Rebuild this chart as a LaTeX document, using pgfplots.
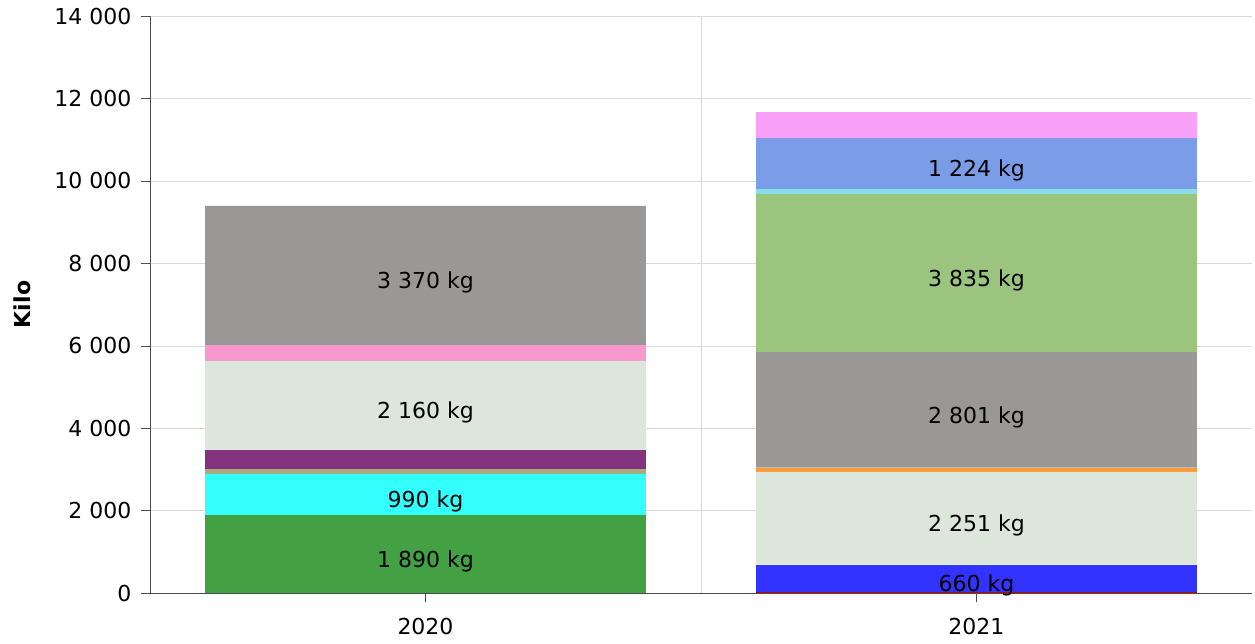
\documentclass[border=0pt]{standalone}
\usepackage{fontspec}
\setmainfont{DejaVu Sans}
\usepackage{pgfplots}
\pgfplotsset{compat=1.18}

\definecolor{cRed}{HTML}{C00000}
\definecolor{cBlue}{HTML}{3333FF}
\definecolor{cGreen}{HTML}{43A143}
\definecolor{cCyan}{HTML}{33FFFF}
\definecolor{cTan}{HTML}{A8AA80}
\definecolor{cPurple}{HTML}{833380}
\definecolor{cLight}{HTML}{DCE6DA}
\definecolor{cOrange}{HTML}{FF9933}
\definecolor{cPink}{HTML}{F799CC}
\definecolor{cGray}{HTML}{999897}
\definecolor{cGreenB}{HTML}{9BC47F}
\definecolor{cLCyan}{HTML}{88DDE6}
\definecolor{cBlueB}{HTML}{7B9DE8}
\definecolor{cPinkB}{HTML}{F9A0F9}

\pgfplotsset{
  % value label in the middle of its own segment, empty for zero entries
  lbl/.style={
    point meta=rawy,
    nodes near coords={\pgfmathfloatifflags{\pgfplotspointmeta}{0}{}{\pgfmathprintnumber{\pgfplotspointmeta}\ kg}},
    every node near coord/.append style={anchor=center, text=black, yshift=-7bp},
  },
}

\begin{document}
\fontsize{22bp}{26bp}\selectfont
\begin{tikzpicture}
  \begin{axis}[
    at={(0,0)}, anchor=south west,
    scale only axis,
    width=1102bp, height=577bp,
    ybar stacked,
    bar width=0.8,
    xmin=-0.5, xmax=1.5,
    ymin=0, ymax=14000,
    xtick={0,1},
    xticklabels={2020,2021},
    minor xtick={0.5},
    ytick={0,2000,...,14000},
    scaled y ticks=false,
    axis x line*=bottom,
    axis y line*=left,
    axis line style={black!70},
    tick align=outside,
    major tick length=9bp,
    minor tick length=0pt,
    tick style={black!70},
    ymajorgrids, xminorgrids,
    major grid style={black!15},
    minor grid style={black!15},
    /pgf/number format/.cd, 1000 sep={\ }, assume math mode=true,
    /pgfplots/.cd,
    ylabel={\bfseries Kilo},
    ylabel style={at={(axis description cs:-0.116,0.5)}, anchor=center, rotate=0},
    xticklabel style={yshift=-9bp},
    yticklabel style={xshift=-2bp},
  ]
  \addplot[fill=cRed, draw=none] coordinates {(0,0) (1,30)};
  \addplot[fill=cBlue, draw=none, lbl] coordinates {(0,0) (1,660)};
  \addplot[fill=cGreen, draw=none, lbl] coordinates {(0,1890) (1,0)};
  \addplot[fill=cCyan, draw=none, lbl] coordinates {(0,990) (1,0)};
  \addplot[fill=cTan, draw=none] coordinates {(0,140) (1,0)};
  \addplot[fill=cPurple, draw=none] coordinates {(0,445) (1,0)};
  \addplot[fill=cLight, draw=none, lbl] coordinates {(0,2160) (1,2251)};
  \addplot[fill=cOrange, draw=none] coordinates {(0,0) (1,100)};
  \addplot[fill=cPink, draw=none] coordinates {(0,395) (1,0)};
  \addplot[fill=cGray, draw=none, lbl] coordinates {(0,3370) (1,2801)};
  \addplot[fill=cGreenB, draw=none, lbl] coordinates {(0,0) (1,3835)};
  \addplot[fill=cLCyan, draw=none] coordinates {(0,0) (1,130)};
  \addplot[fill=cBlueB, draw=none, lbl] coordinates {(0,0) (1,1224)};
  \addplot[fill=cPinkB, draw=none] coordinates {(0,0) (1,640)};
  \end{axis}
  \pgfresetboundingbox
  \path[use as bounding box] (-150bp,-51bp) rectangle (1105bp,593bp);
\end{tikzpicture}
\end{document}
